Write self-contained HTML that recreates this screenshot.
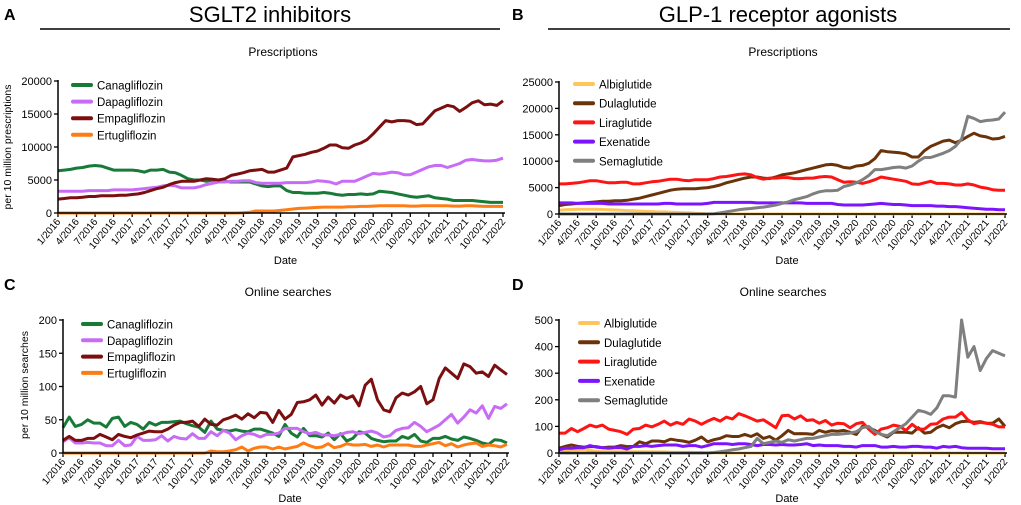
<!DOCTYPE html>
<html><head><meta charset="utf-8"><style>
body{margin:0;background:#fff;}
svg{display:block;font-family:"Liberation Sans",Arial,sans-serif;}
</style></head><body>
<svg id="c" width="1021" height="505"></svg>
<script>
const months=Array.from({length:73},(_,i)=>i);
const tickLabels=["1/2016","4/2016","7/2016","10/2016","1/2017","4/2017","7/2017","10/2017","1/2018","4/2018","7/2018","10/2018","1/2019","4/2019","7/2019","10/2019","1/2020","4/2020","7/2020","10/2020","1/2021","4/2021","7/2021","10/2021","1/2022"];
const z24=new Array(24).fill(0), z12=new Array(12).fill(0);
const aCana=[6400,6500,6600,6800,6900,7100,7200,7100,6800,6500,6500,6500,6500,6400,6200,6500,6500,6600,6200,6100,5700,5200,5000,5000,4800,5000,4800,4800,4700,4700,4700,4700,4400,4100,4000,4100,4100,3400,3100,3100,3000,3000,3000,3100,3000,2800,2700,2800,2800,2900,2800,2900,3300,3200,3100,2900,2700,2500,2400,2500,2600,2300,2200,2100,1900,1900,1900,1900,1800,1700,1600,1600,1600];
const aDapa=[3300,3300,3300,3300,3300,3400,3400,3400,3400,3500,3500,3500,3500,3600,3700,3800,3900,4100,4200,4100,3800,3800,3800,4000,4300,4500,4700,4700,4800,4800,4900,4900,4600,4500,4500,4500,4500,4600,4600,4600,4600,4700,4900,4800,4700,4400,4800,4800,4800,5200,5600,6000,5900,6000,6200,6100,5800,5800,6200,6600,7000,7200,7200,6900,7200,7500,8000,8100,8000,7900,7900,8000,8300];
const aEmpa=[2100,2200,2300,2300,2400,2500,2500,2600,2600,2600,2700,2700,2800,2900,3100,3400,3700,3900,4300,4600,4800,4800,4800,5000,5200,5100,5000,5200,5700,5900,6100,6400,6500,6600,6200,6200,6500,6800,8500,8700,8900,9200,9400,9800,10300,10300,9900,9800,10300,10600,11100,12000,13000,14000,13800,14000,14000,13900,13400,13500,14500,15500,15900,16300,16100,15400,16000,16700,17000,16400,16500,16300,17000];
const aErtu=[...z24,0,0,0,0,0,0,50,100,300,300,300,300,400,500,600,700,750,800,850,900,900,900,900,950,950,1000,1000,1050,1100,1100,1100,1100,1100,1050,1050,1100,1100,1100,1100,1100,1050,1050,1100,1100,1050,1000,1000,1000,1000];
const bAlbi=[700,800,850,900,900,900,900,850,800,750,700,650,600,550,500,450,400,400,350,300,250,200,150,100,50,...new Array(48).fill(0)];
const bDula=[1600,1800,1900,2000,2100,2200,2300,2400,2400,2500,2500,2600,2800,3000,3300,3600,3900,4200,4500,4700,4800,4800,4800,4900,5000,5200,5500,5900,6200,6500,6800,7000,7000,6800,6700,7000,7400,7600,7800,8100,8400,8700,9000,9300,9400,9200,8800,8700,9100,9200,9600,10500,12000,11800,11700,11600,11400,10800,10800,12000,12800,13300,13800,14000,13500,14000,14700,15300,14800,14600,14200,14300,14700];
const bLira=[5700,5700,5800,5900,6100,6300,6300,6100,5900,5900,6000,6000,5700,5700,5900,6100,6200,6400,6600,6600,6400,6300,6500,6500,6500,6700,7000,7100,7300,7500,7600,7400,6900,6600,6800,6800,6900,6900,6700,6700,6800,6800,7000,7100,7000,6500,6000,6100,6000,5800,6100,6500,7000,6800,6600,6400,6200,5700,5600,5900,6200,5800,5800,5700,5500,5500,5700,5500,5100,4900,4600,4500,4500];
const bExen=[2100,2100,2100,2000,2000,2000,2000,2000,1900,1900,1900,1900,1900,1900,1900,1900,1900,2000,2000,1900,1900,1900,1900,1900,2000,2200,2200,2200,2200,2200,2200,2200,2100,2100,2100,2100,2100,2100,2100,2100,2000,2000,2000,2000,2000,1800,1700,1700,1700,1700,1800,1900,2000,1900,1800,1800,1700,1600,1600,1600,1600,1500,1500,1400,1400,1300,1200,1100,1000,900,900,800,800];
const bSema=[...z24,0,50,200,400,600,800,950,1050,1200,1300,1500,1700,2000,2300,2700,3000,3300,3800,4200,4400,4400,4500,5200,5500,5900,6500,7300,8400,8400,8600,8800,8900,8700,9100,10000,10700,10700,11100,11500,12000,12800,14200,18500,18100,17500,17700,17800,18000,19300];
const cCana=[38,54,40,43,50,45,45,39,52,54,40,46,43,36,46,42,46,46,47,48,44,41,39,31,48,36,34,33,35,33,32,36,36,33,30,25,43,30,24,37,26,26,24,30,20,29,18,22,32,30,22,19,17,18,18,25,22,28,18,16,22,22,25,21,19,24,22,19,15,13,20,19,15];
const cDapa=[17,23,15,15,16,15,15,11,11,19,11,12,25,19,19,20,26,18,25,22,21,29,22,22,32,26,34,30,20,26,30,28,24,28,28,30,37,37,37,32,29,31,27,27,26,28,31,32,29,31,33,30,24,26,34,37,38,46,40,32,37,42,50,58,45,54,65,60,71,52,70,67,74];
const cEmpa=[19,25,19,19,22,22,28,24,20,28,25,23,27,30,33,32,32,36,42,46,46,48,40,51,43,42,50,53,57,51,59,53,61,60,46,64,51,58,76,77,80,87,72,84,75,87,82,86,71,102,111,80,65,62,83,90,87,92,100,74,80,112,128,120,112,134,130,120,122,115,132,125,118];
const cErtu=[...z24,3,2,2,3,5,9,3,7,9,9,6,9,6,8,10,15,11,8,9,14,8,10,14,12,12,13,10,12,9,12,12,12,12,10,10,12,14,16,11,14,9,12,14,15,10,12,11,9,13];
const dAlbi=[5,8,12,12,14,10,6,5,5,5,5,5,5,5,4,4,4,4,3,3,3,3,2,2,1,1,...new Array(47).fill(0)];
const dDula=[18,25,30,25,22,24,24,20,22,22,28,24,25,42,35,45,45,42,52,48,45,40,48,60,42,50,55,65,62,62,70,62,72,55,62,48,65,85,72,73,72,70,85,78,84,82,85,78,70,100,95,85,70,60,78,78,78,75,95,75,78,95,105,95,110,118,120,115,118,112,112,128,100];
const dLira=[75,75,92,80,92,105,98,105,90,85,80,70,90,92,105,98,108,120,105,115,108,128,120,108,120,130,120,135,128,148,140,130,120,125,110,95,140,142,128,140,122,125,112,122,105,112,110,95,110,115,90,70,90,95,105,100,85,108,90,90,108,110,128,135,135,152,125,110,115,112,108,98,98];
const dExen=[12,18,18,20,20,28,22,20,18,20,20,15,25,25,28,25,28,30,30,30,25,28,28,22,28,35,35,35,32,35,35,32,28,32,32,30,32,30,30,32,35,28,30,28,28,28,25,25,22,28,28,28,22,22,25,22,22,25,25,22,22,18,25,22,25,20,18,18,18,18,16,16,16];
const dSema=[...z24,0,2,5,8,12,15,20,25,55,35,40,45,40,50,45,50,55,55,60,65,70,70,72,75,80,95,100,80,70,65,80,95,110,135,160,155,145,170,215,215,210,500,360,400,310,355,385,375,365];
const aTicks=[0,5000,10000,15000,20000], bTicks=[0,5000,10000,15000,20000,25000], cTicks=[0,50,100,150,200], dTicks=[0,100,200,300,400,500];

const NS="http://www.w3.org/2000/svg";
const svg=document.getElementById('c');
function el(tag,attrs,parent,text){const e=document.createElementNS(NS,tag);for(const k in attrs)e.setAttribute(k,attrs[k]);if(text!=null)e.textContent=text;(parent||svg).appendChild(e);return e;}

function panel(p){
  const g=el('g',{},svg);
  
  
  const xs=i=>p.x0+(p.x1-p.x0)*i/72;
  const ys=v=>p.y0-(p.y0-p.y1)*v/p.ymax;
  p.ticks.forEach(t=>{
    const tl=el('line',{x1:p.x0-4,x2:p.x0,y1:ys(t),y2:ys(t),stroke:'#000','stroke-width':1.3},g);
    
    
    const tx=el('text',{x:p.x0-6,y:ys(t)+4,'text-anchor':'end','font-size':11},g,String(t));
    
    
  });
  tickLabels.forEach((lab,k)=>{
    const x=xs(k*3);
    const tl=el('line',{x1:x,x2:x,y1:p.y0,y2:p.y0+4,stroke:'#000','stroke-width':1.3},g);
    
    
    const tx=el('text',{x:x+3,y:p.y0+9,'text-anchor':'end','font-size':10,transform:`rotate(-50 ${x+3} ${p.y0+9})`},g,lab);
    
    
  });
  p.series.forEach((s,si)=>{
    const d=s.data.map((v,i)=>(i?'L':'M')+xs(i).toFixed(1)+','+ys(v).toFixed(1)).join('');
    const path=el('path',{d:d,fill:'none',stroke:s.color,'stroke-width':3,'stroke-linejoin':'round'},g);
    
    
  });
  const ax=el('path',{d:`M${p.x0},${p.y1-1}L${p.x0},${p.y0}L${p.x1+2},${p.y0}`,fill:'none',stroke:'#000','stroke-width':1.5},g);
  
  
  p.series.forEach((s,si)=>{
    const y=p.ly+si*p.ld;
    const lg=el('g',{},g);
    
    
    el('line',{x1:p.lx,x2:p.lx+18,y1:y,y2:y,stroke:s.color,'stroke-width':4,'stroke-linecap':'round'},lg);
    el('text',{x:p.lx+24,y:y+4.5,'font-size':11.5},lg,s.name);
  });
  const dt=el('text',{x:(p.x0+p.x1)/2+5,y:p.dateY,'text-anchor':'middle','font-size':11},g,'Date');
  
  
}
const sglt=(a,b,c,d)=>[{name:'Canagliflozin',color:'#177a37',data:a},{name:'Dapagliflozin',color:'#c96cf5',data:b},{name:'Empagliflozin',color:'#7b0f0f',data:c},{name:'Ertugliflozin',color:'#ff7c14',data:d}];
const glp=(a,b,c,d,e)=>[{name:'Albiglutide',color:'#ffc55a',data:a},{name:'Dulaglutide',color:'#6b3309',data:b},{name:'Liraglutide',color:'#ff1414',data:c},{name:'Exenatide',color:'#7d14ff',data:d},{name:'Semaglutide',color:'#7f7f7f',data:e}];
panel({id:'a',x0:58,x1:503,y0:213,y1:81,ymax:20000,ticks:aTicks,series:sglt(aCana,aDapa,aEmpa,aErtu),lx:73,ly:85,ld:16.6,dateY:264});
panel({id:'b',x0:559,x1:1005,y0:214,y1:82,ymax:25000,ticks:bTicks,series:glp(bAlbi,bDula,bLira,bExen,bSema),lx:575,ly:84,ld:19.2,dateY:264});
panel({id:'c',x0:63,x1:507,y0:453,y1:320,ymax:200,ticks:cTicks,series:sglt(cCana,cDapa,cEmpa,cErtu),lx:83,ly:324,ld:16.3,dateY:502});
panel({id:'d',x0:559,x1:1005,y0:453,y1:320,ymax:500,ticks:dTicks,series:glp(dAlbi,dDula,dLira,dExen,dSema),lx:580,ly:323,ld:19.3,dateY:502});
</script>
<div style="position:absolute;left:0;top:0;width:1021px;height:505px;pointer-events:none;font-family:'Liberation Sans',Arial,sans-serif;">
<svg width="1021" height="505" style="position:absolute;left:0;top:0">
<text x="4" y="20" font-size="16" font-weight="bold">A</text>
<text x="512" y="20" font-size="16" font-weight="bold">B</text>
<text x="4" y="290" font-size="16" font-weight="bold">C</text>
<text x="512" y="290" font-size="16" font-weight="bold">D</text>
<text x="270" y="22" font-size="22" text-anchor="middle">SGLT2 inhibitors</text>
<line x1="40" x2="500" y1="29" y2="29" stroke="#000" stroke-width="1.5"/>
<text x="778" y="22" font-size="22" text-anchor="middle">GLP-1 receptor agonists</text>
<line x1="548" x2="1010" y1="29" y2="29" stroke="#000" stroke-width="1.5"/>
<text x="283" y="56" font-size="12" text-anchor="middle">Prescriptions</text>
<text x="783" y="56" font-size="12" text-anchor="middle">Prescriptions</text>
<text x="288" y="296" font-size="12" text-anchor="middle">Online searches</text>
<text x="783" y="296" font-size="12" text-anchor="middle">Online searches</text>
<text x="11" y="147" font-size="10.5" text-anchor="middle" transform="rotate(-90 11 147)">per 10 million prescriptions</text>
<text x="28" y="385" font-size="10.5" text-anchor="middle" transform="rotate(-90 28 385)">per 10 million searches</text>
</svg></div>
</body></html>
